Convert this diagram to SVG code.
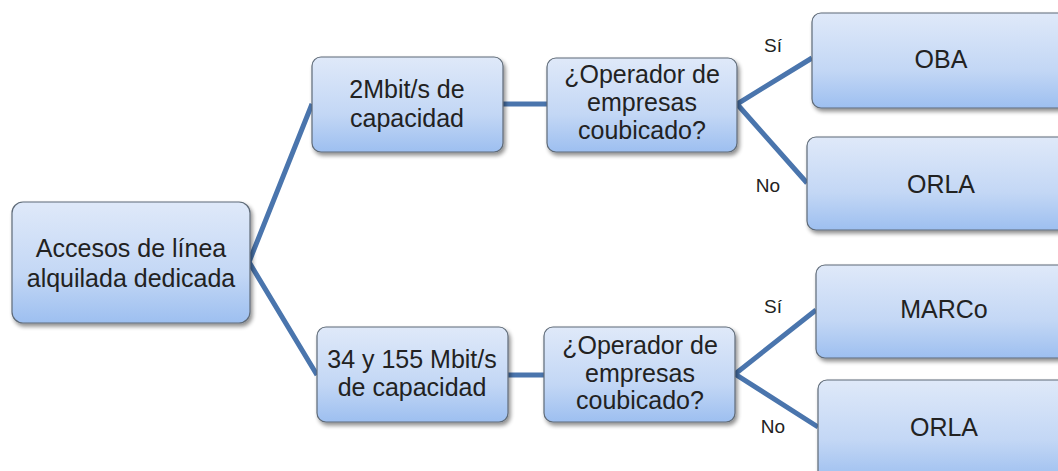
<svg xmlns="http://www.w3.org/2000/svg" width="1058" height="471" viewBox="0 0 1058 471">
<defs>
<linearGradient id="g" x1="0" y1="0" x2="0" y2="1">
<stop offset="0" stop-color="#dfe9f9"/>
<stop offset="0.6" stop-color="#c3d7f5"/>
<stop offset="1" stop-color="#9dbff0"/>
</linearGradient>
<filter id="sh" x="-10%" y="-10%" width="130%" height="140%">
<feGaussianBlur in="SourceAlpha" stdDeviation="2"/>
<feOffset dx="2" dy="3" result="b"/>
<feComponentTransfer><feFuncA type="linear" slope="0.45"/></feComponentTransfer>
<feMerge><feMergeNode/><feMergeNode in="SourceGraphic"/></feMerge>
</filter>
</defs>
<style>
.box{fill:url(#g);stroke:#5f6b78;stroke-width:1.2;filter:url(#sh)}
.t{font-family:"Liberation Sans",Arial,sans-serif;font-size:25px;fill:#222222;text-anchor:middle}
.l{font-family:"Liberation Sans",Arial,sans-serif;font-size:19px;fill:#222222;text-anchor:middle}
.c{stroke:#4a75ad;stroke-width:5;fill:none;stroke-linecap:butt;stroke-linejoin:miter}
</style>
<rect width="1058" height="471" fill="#ffffff"/>
<g id="connectors">
<polyline class="c" points="312,104 249,262 317,375"/>
<line class="c" x1="503" y1="104" x2="547" y2="104"/>
<polyline class="c" points="812,58 737,104 807,183"/>
<line class="c" x1="508" y1="375" x2="544" y2="375"/>
<polyline class="c" points="816,310 735,374 818,427"/>
<text class="l" x="773" y="52">Sí</text>
<text class="l" x="768" y="192">No</text>
<text class="l" x="773" y="313">Sí</text>
<text class="l" x="773" y="433">No</text>
</g>
<g id="root">
<rect class="box" x="12" y="202" width="238" height="121" rx="11"/>
<text class="t" x="131" y="257">Accesos de línea</text>
<text class="t" x="131" y="287">alquilada dedicada</text>
</g>
<g id="n2m">
<rect class="box" x="312" y="57" width="191" height="95" rx="9"/>
<text class="t" x="407" y="98">2Mbit/s de</text>
<text class="t" x="407" y="127">capacidad</text>
</g>
<g id="op1">
<rect class="box" x="547" y="58" width="190" height="94" rx="9"/>
<text class="t" x="642" y="83">¿Operador de</text>
<text class="t" x="642" y="111">empresas</text>
<text class="t" x="642" y="139">coubicado?</text>
</g>
<g id="oba">
<rect class="box" x="812" y="13" width="260" height="95" rx="9"/>
<text class="t" x="941" y="68">OBA</text>
</g>
<g id="orla1">
<rect class="box" x="807" y="137" width="265" height="93" rx="9"/>
<text class="t" x="941" y="193">ORLA</text>
</g>
<g id="n34">
<rect class="box" x="317" y="327" width="191" height="95" rx="9"/>
<text class="t" x="412" y="368">34 y 155 Mbit/s</text>
<text class="t" x="412" y="396">de capacidad</text>
</g>
<g id="op2">
<rect class="box" x="544" y="327" width="191" height="95" rx="9"/>
<text class="t" x="640" y="354">¿Operador de</text>
<text class="t" x="640" y="382">empresas</text>
<text class="t" x="640" y="409">coubicado?</text>
</g>
<g id="marco">
<rect class="box" x="816" y="265" width="256" height="93" rx="9"/>
<text class="t" x="944" y="318">MARCo</text>
</g>
<g id="orla2">
<rect class="box" x="818" y="380" width="254" height="100" rx="9"/>
<text class="t" x="944" y="436">ORLA</text>
</g>
</svg>
